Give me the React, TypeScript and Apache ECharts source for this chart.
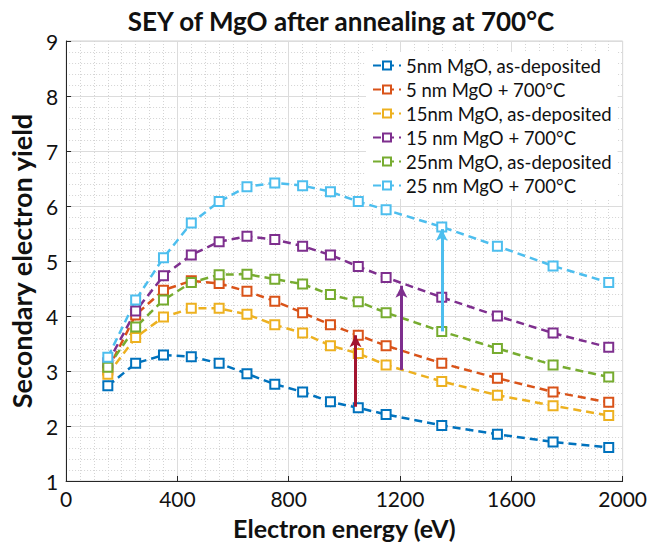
import React, { useEffect, useRef } from "react";
import * as echarts from "echarts";

const energies = [150, 250, 350, 450, 550, 650, 750, 850, 950, 1050, 1150, 1350, 1550, 1750, 1950];

const nm5AsDep = [2.73, 3.14, 3.29, 3.26, 3.14, 2.95, 2.76, 2.62, 2.44, 2.33, 2.21, 2.01, 1.85, 1.71, 1.61];
const nm5Ann = [3.02, 4.02, 4.47, 4.64, 4.59, 4.45, 4.27, 4.06, 3.84, 3.65, 3.46, 3.14, 2.87, 2.62, 2.43];
const nm15AsDep = [2.94, 3.61, 3.98, 4.14, 4.14, 4.03, 3.84, 3.69, 3.46, 3.32, 3.11, 2.81, 2.56, 2.37, 2.19];
const nm15Ann = [3.15, 4.09, 4.73, 5.11, 5.35, 5.45, 5.39, 5.27, 5.11, 4.9, 4.7, 4.34, 4.0, 3.69, 3.43];
const nm25AsDep = [3.07, 3.8, 4.29, 4.61, 4.75, 4.76, 4.67, 4.58, 4.39, 4.26, 4.06, 3.72, 3.41, 3.11, 2.89];
const nm25Ann = [3.25, 4.29, 5.06, 5.69, 6.08, 6.35, 6.42, 6.37, 6.26, 6.08, 5.93, 5.62, 5.27, 4.91, 4.61];

const seriesNames = [
  "5nm MgO, as-deposited",
  "5 nm MgO + 700°C",
  "15nm MgO, as-deposited",
  "15 nm MgO + 700°C",
  "25nm MgO, as-deposited",
  "25 nm MgO + 700°C",
];
const seriesValues = [nm5AsDep, nm5Ann, nm15AsDep, nm15Ann, nm25AsDep, nm25Ann];
const seriesColors = ["#0072BD", "#D95319", "#EDB120", "#7E2F8E", "#77AC30", "#4DBEEE"];

// arrows: energy, from, to
const arrowX = [1040, 1205, 1350];
const arrowFrom = [2.35, 3.02, 3.72];
const arrowTo = [3.65, 4.55, 5.58];
const arrowColors = ["#A2142F", "#7E2F8E", "#4DBEEE"];

const xTicks = { min: 0, max: 2000, interval: 400 };
const yTicks = { min: 1, max: 9, interval: 1 };

const FONT = "Lato, 'Open Sans', sans-serif";

export default function App() {
  const ref = useRef<HTMLDivElement>(null);
  useEffect(() => {
    document.body.style.margin = "0";
    if (!ref.current) return;
    const chart = echarts.init(ref.current, null, { renderer: "svg" });
    const lineSeries = seriesNames.map((name, i) => ({
      name,
      type: "line",
      data: energies.map((e, j) => [e, seriesValues[i][j]]),
      symbol: "emptyRect",
      symbolSize: 9,
      color: seriesColors[i],
      lineStyle: { color: seriesColors[i], width: 2.5, type: [8, 5] },
      itemStyle: { color: seriesColors[i], borderColor: seriesColors[i], borderWidth: 2 },
      z: 3,
    }));
    const arrowSeries = arrowX.map((x, i) => ({
      type: "line",
      data: [],
      silent: true,
      z: 5,
      markLine: {
        silent: true,
        symbol: ["none", "arrow"],
        symbolSize: [9, 12],
        label: { show: false },
        lineStyle: { color: arrowColors[i], width: 3, type: "solid" },
        data: [[{ coord: [x, arrowFrom[i]] }, { coord: [x, arrowTo[i]] }]],
      },
    }));
    chart.setOption({
      animation: false,
      backgroundColor: "#ffffff",
      textStyle: { fontFamily: FONT },
      title: {
        text: "SEY of MgO after annealing at 700°C",
        left: 336,
        textAlign: "center",
        top: 3,
        textStyle: { fontFamily: FONT, fontSize: 26, fontWeight: "bold", color: "#111" },
      },
      grid: {
        left: 59,
        right: 25,
        top: 41,
        bottom: 65,
        show: true,
        borderColor: "#d0d0d0",
        borderWidth: 1,
      },
      legend: {
        data: seriesNames,
        orient: "vertical",
        left: 366,
        top: 52,
        itemWidth: 28,
        itemHeight: 10,
        itemGap: 3,
        backgroundColor: "#ffffff",
        padding: [3, 6, 3, 6],
        textStyle: { fontFamily: FONT, fontSize: 18.5, lineHeight: 21, color: "#111" },
      },
      xAxis: {
        type: "value",
        min: xTicks.min,
        max: xTicks.max,
        interval: xTicks.interval,
        name: "Electron energy (eV)",
        nameLocation: "middle",
        nameGap: 34,
        nameTextStyle: { fontFamily: FONT, fontSize: 25, fontWeight: "bold", color: "#111" },
        axisLine: { show: true, lineStyle: { color: "#262626", width: 1 } },
        axisTick: { show: true, inside: true, length: 5, lineStyle: { color: "#262626" } },
        axisLabel: {
          fontFamily: FONT,
          fontSize: 21,
          color: "#111",
          margin: 7,
          formatter: (v: number) => String(v),
        },
        splitLine: { show: true, lineStyle: { color: "#dcdcdc", width: 1 } },
        minorTick: { show: false, splitNumber: 8 },
        minorSplitLine: { show: true, lineStyle: { color: "#d4d4d4", width: 1, type: [1, 2] } },
      },
      yAxis: {
        type: "value",
        min: yTicks.min,
        max: yTicks.max,
        interval: yTicks.interval,
        name: "Secondary electron yield",
        nameLocation: "middle",
        nameGap: 25,
        nameTextStyle: { fontFamily: FONT, fontSize: 27, fontWeight: "bold", color: "#111" },
        axisLine: { show: true, lineStyle: { color: "#262626", width: 1 } },
        axisTick: { show: true, inside: true, length: 5, lineStyle: { color: "#262626" } },
        axisLabel: {
          fontFamily: FONT,
          fontSize: 21,
          color: "#111",
          margin: 8,
          formatter: (v: number) => String(v),
        },
        splitLine: { show: true, lineStyle: { color: "#dcdcdc", width: 1 } },
        minorTick: { show: false, splitNumber: 5 },
        minorSplitLine: { show: true, lineStyle: { color: "#d4d4d4", width: 1, type: [1, 2] } },
      },
      series: [...lineSeries, ...arrowSeries],
    });
    return () => chart.dispose();
  }, []);
  return <div ref={ref} style={{ width: 650, height: 546 }} />;
}
